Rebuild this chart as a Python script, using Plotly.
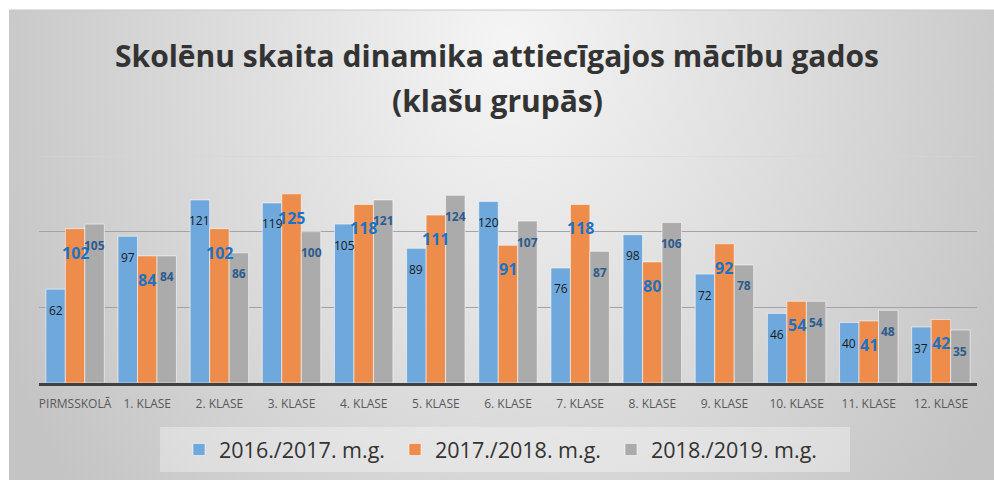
import base64
import plotly.graph_objects as go

categories = ["PIRMSSKOLĀ", "1. KLASE", "2. KLASE", "3. KLASE", "4. KLASE", "5. KLASE",
              "6. KLASE", "7. KLASE", "8. KLASE", "9. KLASE", "10. KLASE", "11. KLASE", "12. KLASE"]
series_names = ["2016./2017. m.g.", "2017./2018. m.g.", "2018./2019. m.g."]
v2016 = [62, 97, 121, 119, 105, 89, 120, 76, 98, 72, 46, 40, 37]
v2017 = [102, 84, 102, 125, 118, 111, 91, 118, 80, 92, 54, 41, 42]
v2018 = [105, 84, 86, 100, 121, 124, 107, 87, 106, 78, 54, 48, 35]
gridlines = [50, 100]
top_gridline = 150

W, H = 994, 480
FONT = "Open Sans"
bar_colors = ["#6ea8dc", "#ee8c4c", "#ababab"]
label_colors = ["#1a1a1a", "#1874c8", "#2d5b8e"]
label_sizes = [12, 16, 12]
label_bold = [False, True, True]
label_drop = [21, 24, 21]
bargap = 0.19

fig = go.Figure()
for name, vals, col in zip(series_names, [v2016, v2017, v2018], bar_colors):
    fig.add_trace(go.Bar(x=categories, y=vals, name=name,
                         marker=dict(color=col, line=dict(color="rgba(255,255,255,0.55)", width=1)),
                         hoverinfo="x+y"))

w = (1 - bargap) / 3
annotations = []
for k, vals in enumerate([v2016, v2017, v2018]):
    for i, v in enumerate(vals):
        txt = f"<b>{v}</b>" if label_bold[k] else str(v)
        annotations.append(dict(x=i + (k - 1) * w, y=v, xref="x", yref="y", text=txt,
                                showarrow=False, yshift=-label_drop[k], yanchor="middle",
                                font=dict(family=FONT, size=label_sizes[k], color=label_colors[k])))

annotations.append(dict(x=0.5, y=1 - 55 / H, xref="paper", yref="paper",
                        text="<b>Skolēnu skaita dinamika attiecīgajos mācību gados</b>",
                        showarrow=False, xanchor="center", yanchor="middle",
                        font=dict(family=FONT, size=30, color="#333333")))
annotations.append(dict(x=0.5, y=1 - 100 / H, xref="paper", yref="paper",
                        text="<b>(klašu grupās)</b>",
                        showarrow=False, xanchor="center", yanchor="middle",
                        font=dict(family=FONT, size=30, color="#333333")))

svg = ('<svg xmlns="http://www.w3.org/2000/svg" width="985" height="470" viewBox="0 0 985 470" '
       'preserveAspectRatio="none"><defs><radialGradient id="g" gradientUnits="userSpaceOnUse" '
       'cx="0" cy="0" r="1" gradientTransform="translate(500,40) scale(560,700)">'
       '<stop offset="0" stop-color="#f5f5f5"/><stop offset="1" stop-color="#c4c4c4"/>'
       '</radialGradient></defs><rect width="985" height="470" fill="url(#g)"/></svg>')
src = "data:image/svg+xml;base64," + base64.b64encode(svg.encode()).decode()

x0d, x1d = 39 / W, 977 / W
shapes = [
    dict(type="rect", xref="paper", yref="paper", x0=160 / W, x1=850 / W,
         y0=1 - 472 / H, y1=1 - 427 / H, fillcolor="rgba(255,255,255,0.32)",
         line=dict(width=0), layer="below"),
    dict(type="line", xref="paper", yref="y", x0=x0d, x1=x1d, y0=top_gridline, y1=top_gridline,
         line=dict(color="#d6d6d6", width=1), layer="below"),
    dict(type="line", xref="paper", yref="paper", x0=9 / W, x1=1, y0=1 - 10 / H, y1=1 - 10 / H,
         line=dict(color="#c8c8c8", width=1)),
]

fig.update_layout(
    width=W, height=H,
    margin=dict(l=0, r=0, t=0, b=0),
    paper_bgcolor="white", plot_bgcolor="rgba(0,0,0,0)",
    font=dict(family=FONT, color="#595959"),
    barmode="group", bargap=bargap, bargroupgap=0.0,
    images=[dict(source=src, xref="paper", yref="paper", x=9 / W, y=1 - 10 / H,
                 sizex=1 - 9 / W, sizey=1 - 10 / H, xanchor="left", yanchor="top",
                 sizing="stretch", layer="below")],
    shapes=shapes,
    annotations=annotations,
    showlegend=True,
    legend=dict(orientation="h", x=0.5 + 6 / W, xanchor="center", y=1 - 449.5 / H, yanchor="middle",
                font=dict(family=FONT, size=21.5, color="#333333"), bgcolor="rgba(0,0,0,0)",
                traceorder="normal", entrywidth=171, entrywidthmode="pixels"),
    xaxis=dict(domain=[x0d, x1d], showgrid=False, showline=True, linecolor="#404040", linewidth=3,
               ticks="outside", ticklen=8, tickcolor="rgba(0,0,0,0)",
               tickfont=dict(family=FONT, size=12, color="#595959"), fixedrange=True),
    yaxis=dict(domain=[97 / H, 324 / H], range=[0, 150], showticklabels=False, tickvals=gridlines,
               showgrid=True, gridcolor="#a3a3a3", gridwidth=1, zeroline=False, fixedrange=True),
)

fig.write_html("out.html", config={"displayModeBar": False},
               post_script="document.body.style.margin='0';document.body.style.overflow='hidden';")
